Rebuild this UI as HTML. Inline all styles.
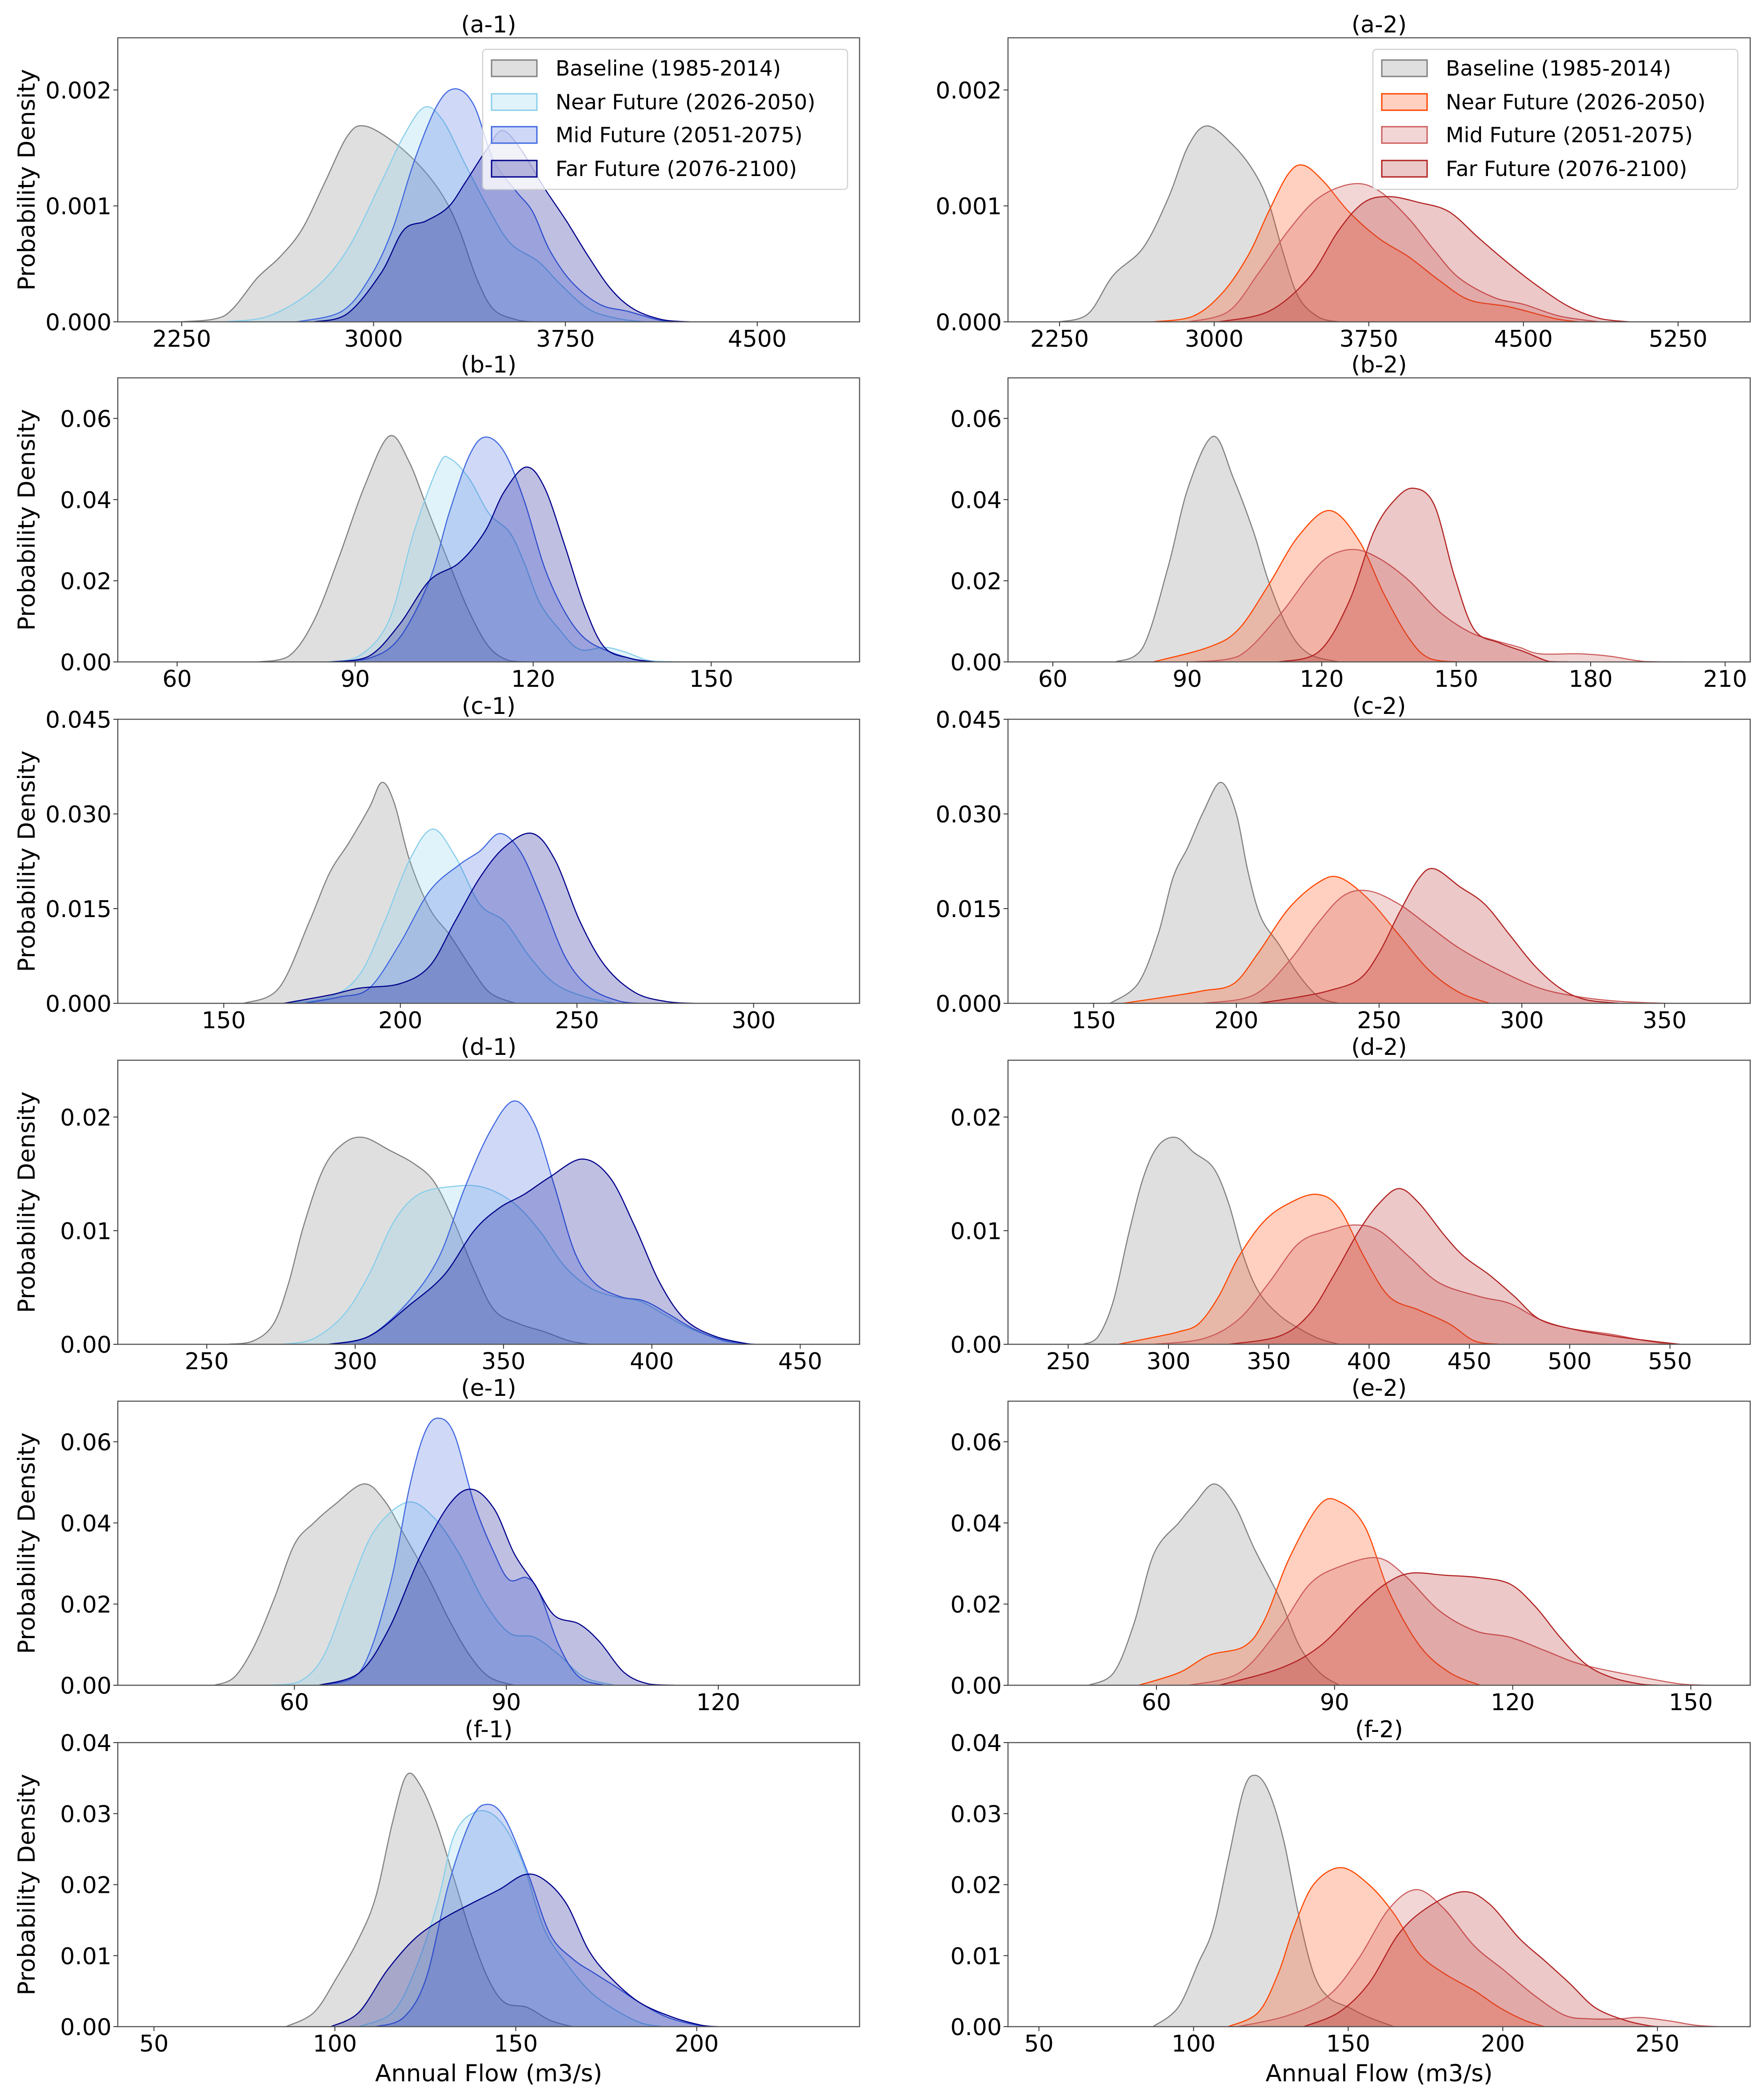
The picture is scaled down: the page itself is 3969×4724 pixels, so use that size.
<!DOCTYPE html>
<html>
<head>
<meta charset="utf-8">
<style>
html,body{margin:0;padding:0;background:#fff;}
svg{display:block;font-family:"DejaVu Sans","Liberation Sans",sans-serif;}
</style>
</head>
<body>
<svg id="fig" width="3969" height="4724" viewBox="0 0 3969 4724" xmlns="http://www.w3.org/2000/svg"></svg>
<script>
// ---------- data (x value, density) ----------
const A1_BASE=[[2250,0],[2415,0.00005],[2546,0.00038],[2634,0.00056],[2721,0.0008],[2809,0.0012],[2897,0.0016],[2963,0.00169],[3073,0.00156],[3183,0.00134],[3270,0.00109],[3336,0.00079],[3402,0.00038],[3468,0.00011],[3556,0.00002],[3622,0]];
const A1_NEAR=[[2415,0],[2590,0.00005],[2766,0.00028],[2897,0.00062],[3029,0.0012],[3117,0.0016],[3198,0.00185],[3270,0.00174],[3358,0.00136],[3446,0.00099],[3534,0.00068],[3644,0.00052],[3732,0.00032],[3841,0.00011],[3951,0.00003],[4061,0]];
const A1_MID=[[2700,0],[2875,0.00009],[2985,0.00038],[3073,0.00079],[3161,0.0014],[3249,0.00187],[3319,0.00201],[3392,0.00187],[3468,0.0014],[3556,0.00113],[3622,0.00095],[3688,0.00062],[3776,0.00034],[3885,0.00015],[3995,0.00009],[4127,0.00001],[4215,0]];
const A1_FAR=[[2766,0],[2897,0.00007],[3029,0.00042],[3117,0.00079],[3205,0.00087],[3292,0.00099],[3358,0.0012],[3446,0.0015],[3505,0.00165],[3578,0.00148],[3666,0.00116],[3754,0.00087],[3841,0.00056],[3929,0.00028],[4017,0.00011],[4127,0.00002],[4237,0]];

const A2_BASE=[[2250,0],[2389,0.00007],[2510,0.0004],[2656,0.00064],[2778,0.00107],[2875,0.00152],[2967,0.00169],[3094,0.00152],[3191,0.0013],[3264,0.00103],[3337,0.00058],[3410,0.00021],[3507,0.00004],[3604,0]];
const A2_NEAR=[[2705,0],[2899,0.00005],[3045,0.00026],[3167,0.00058],[3264,0.00095],[3361,0.00128],[3434,0.00135],[3531,0.00121],[3653,0.00095],[3799,0.00072],[3944,0.00056],[4090,0.00036],[4236,0.00019],[4430,0.00013],[4649,0.00003],[4771,0]];
const A2_MID=[[2875,0],[3069,0.00009],[3215,0.00042],[3361,0.00079],[3507,0.00107],[3672,0.00119],[3799,0.00113],[3944,0.00089],[4066,0.00062],[4187,0.00038],[4357,0.00021],[4503,0.00015],[4674,0.00005],[4868,0]];
const A2_FAR=[[3021,0],[3264,0.00009],[3459,0.00038],[3604,0.00079],[3726,0.00103],[3847,0.00108],[3993,0.00103],[4139,0.00095],[4285,0.00072],[4430,0.0005],[4576,0.0003],[4722,0.00013],[4868,0.00003],[5014,0]];

const B1_BASE=[[73.7,0],[78.8,0.0014],[83,0.01],[87.2,0.0255],[91.5,0.043],[95.7,0.0556],[99,0.0496],[102.5,0.0365],[105.8,0.0244],[109.2,0.0124],[112.6,0.0036],[116,0.0003],[119.4,0]];
const B1_NEAR=[[85.5,0],[90.6,0.0014],[95.7,0.0102],[99.9,0.032],[104.1,0.0485],[106,0.0501],[109.2,0.0452],[112.6,0.0365],[116,0.032],[118.5,0.0244],[121.1,0.0146],[124.4,0.008],[127.8,0.0031],[132,0.0036],[135.4,0.0025],[139.7,0.0003],[145.2,0]];
const B1_MID=[[85.5,0],[92.3,0.0009],[97.4,0.0058],[102.5,0.02],[105.8,0.0365],[109.2,0.0507],[111.9,0.0554],[115.1,0.0518],[118.5,0.0397],[121.9,0.0233],[125.3,0.0124],[128.7,0.0058],[132.9,0.0025],[138,0.0003],[140.5,0]];
const B1_FAR=[[86,0],[92.3,0.0014],[97.4,0.0091],[102.5,0.02],[107.5,0.0244],[111.8,0.032],[115.1,0.0419],[118.8,0.048],[121.9,0.043],[125.3,0.0288],[128.7,0.0135],[132,0.0036],[136.3,0.0009],[140.5,0]];

const B2_BASE=[[74,0],[80.1,0.0036],[85.7,0.0233],[90.2,0.043],[95.8,0.0556],[100.3,0.0452],[104.8,0.032],[108.1,0.02],[112.6,0.008],[117.1,0.002],[123.8,0]];
const B2_NEAR=[[82.4,0],[94.7,0.0036],[101.4,0.008],[108.1,0.0189],[114.8,0.031],[121.8,0.0373],[128.3,0.0299],[133.9,0.0167],[139.5,0.0058],[144,0.0009],[150.7,0]];
const B2_MID=[[91.3,0],[101.4,0.0014],[110.4,0.0113],[117.1,0.0211],[121.6,0.026],[127.2,0.0277],[132.8,0.0255],[139.5,0.02],[146.2,0.0124],[152.9,0.0074],[158.5,0.0053],[164.1,0.0036],[168.6,0.002],[177.5,0.002],[184.3,0.0014],[192.1,0.0001],[201,0]];
const B2_FAR=[[110.4,0],[119.3,0.0025],[126,0.0146],[131.6,0.032],[136.1,0.0397],[140.4,0.0428],[145.1,0.0387],[149.6,0.0211],[154,0.008],[159.6,0.0047],[165.2,0.0025],[170.8,0.0001],[175.3,0]];

const C1_BASE=[[155.7,0],[165.6,0.0024],[174.2,0.0129],[179.9,0.0206],[185.5,0.0255],[191.2,0.031],[194.8,0.035],[198.3,0.0317],[202.6,0.0227],[208.3,0.015],[214,0.0108],[219.7,0.0059],[225.3,0.0017],[232.5,0]];
const C1_NEAR=[[167,0],[179.9,0.001],[188.4,0.0045],[195.5,0.0129],[202.6,0.0227],[209.1,0.0276],[215.4,0.0234],[222.5,0.0157],[229.6,0.0129],[236.7,0.0073],[243.8,0.0031],[252.4,0.001],[260.9,0]];
const C1_MID=[[172.7,0],[182.7,0.001],[191.2,0.0024],[199.8,0.0094],[208.3,0.0178],[216.8,0.022],[222.5,0.0241],[228.2,0.0269],[233.9,0.0241],[239.6,0.0171],[246.7,0.0073],[253.8,0.0024],[262.3,0.0003],[268,0]];
const C1_FAR=[[167,0],[179.9,0.0013],[188.4,0.0024],[199.8,0.0031],[208.3,0.0059],[215.4,0.0129],[222.5,0.0199],[229.6,0.0248],[237.4,0.0269],[243.8,0.0227],[250.9,0.0129],[258,0.0059],[266.5,0.0017],[275.1,0.0003],[283,0]];

const C2_BASE=[[155.8,0],[165.5,0.0031],[172.5,0.0108],[177.8,0.0199],[183.1,0.0248],[188.4,0.0303],[194.5,0.035],[199.8,0.0303],[204.2,0.0206],[208.6,0.0136],[214.8,0.0094],[221.8,0.0045],[228.9,0.001],[235.9,0]];
const C2_NEAR=[[160.2,0],[179.6,0.0013],[188.4,0.002],[199,0.0031],[207.7,0.008],[218.3,0.015],[228.9,0.0192],[236.3,0.0199],[246.5,0.0164],[257,0.0108],[267.6,0.0052],[278.2,0.0017],[288.7,0]];
const C2_MID=[[188.4,0],[206,0.0013],[218.3,0.0066],[228.9,0.0129],[237.7,0.0171],[246.5,0.0178],[257,0.0157],[267.6,0.0122],[278.2,0.0087],[292.3,0.0052],[306.3,0.0024],[320.4,0.001],[334.5,0.0003],[350.4,0]];
const C2_FAR=[[207.7,0],[221.8,0.001],[232.4,0.002],[243,0.0038],[250,0.008],[257,0.0143],[264.1,0.0199],[269.4,0.0213],[278.2,0.0185],[287,0.0157],[295.8,0.0108],[304.6,0.0059],[313.4,0.0024],[322.2,0.0006],[334.5,0]];

const D1_BASE=[[257.3,0],[265.7,0.0003],[272.5,0.0018],[277.6,0.0054],[282.6,0.0104],[289.4,0.0155],[296.2,0.0177],[302.9,0.0182],[311.4,0.0171],[319.8,0.0159],[326.6,0.0143],[333.3,0.0108],[340.1,0.0065],[346.9,0.003],[355.3,0.0018],[363.8,0.0011],[372.2,0.0003],[379,0]];
const D1_NEAR=[[275.9,0],[286,0.0005],[296.2,0.0026],[304.6,0.0061],[313.1,0.0108],[321.5,0.0132],[333.3,0.0139],[343.5,0.0138],[353.6,0.0124],[362.1,0.01],[370.5,0.0069],[379,0.005],[387.4,0.0042],[395.9,0.0038],[404.3,0.0026],[412.8,0.0014],[422.9,0.0005],[433.1,0]];
const D1_MID=[[291.1,0],[304.6,0.0007],[318.1,0.0038],[328.3,0.0077],[336.7,0.0136],[345.2,0.0186],[353.3,0.0214],[360.4,0.0194],[367.2,0.0139],[374,0.0081],[380.7,0.0054],[389.2,0.0042],[397.6,0.0038],[406,0.0026],[414.5,0.0013],[424.6,0.0003],[434.8,0]];
const D1_FAR=[[291.1,0],[304.6,0.0007],[318.1,0.0034],[330,0.0061],[340.1,0.01],[348.6,0.012],[357,0.0132],[365.5,0.0147],[376.5,0.0163],[385.8,0.0147],[394.2,0.0104],[402.7,0.0054],[411.1,0.0022],[421.3,0.0007],[433.1,0]];

const D2_BASE=[[257.5,0],[265,0.0007],[272.5,0.0038],[280,0.0096],[287.5,0.0147],[295,0.0175],[303.8,0.0182],[312.5,0.0169],[322.5,0.0155],[330,0.0124],[337.5,0.0077],[345,0.0046],[355,0.0026],[365,0.0014],[375,0.0005],[385,0]];
const D2_NEAR=[[275,0],[295,0.0007],[305,0.0011],[315,0.0018],[325,0.0042],[335,0.0077],[347.5,0.0108],[360,0.0124],[373.8,0.0132],[385,0.012],[397.5,0.0077],[410,0.0042],[425,0.003],[440,0.0018],[452.5,0.0003],[465,0]];
const D2_MID=[[292.5,0],[317.5,0.0005],[335,0.0022],[350,0.0054],[365,0.0089],[380,0.01],[392.5,0.0105],[405,0.01],[420,0.0077],[435,0.0054],[455,0.0042],[470,0.0036],[485,0.0022],[500,0.0014],[520,0.0009],[535,0.0004],[550,0]];
const D2_FAR=[[330,0],[355,0.0007],[370,0.0026],[382.5,0.0061],[395,0.01],[405,0.0124],[415,0.0137],[425,0.0124],[437.5,0.0096],[447.5,0.0077],[460,0.0061],[472.5,0.0042],[485,0.0022],[502.5,0.0013],[522.5,0.0007],[540,0.0003],[555,0]];

const E1_BASE=[[48.7,0],[51.5,0.002],[54.3,0.0096],[57.2,0.0216],[60,0.0347],[62.8,0.0401],[65.7,0.0445],[69.8,0.0496],[72.7,0.0456],[75.6,0.0369],[79.1,0.026],[81.9,0.0161],[84.8,0.0074],[87.6,0.002],[91.1,0]];
const E1_NEAR=[[56.5,0],[60.7,0.0009],[64.2,0.0074],[67.8,0.0238],[71.3,0.038],[76,0.0451],[79.8,0.0412],[83.3,0.0325],[86.9,0.0205],[90.4,0.0129],[94,0.0118],[97.5,0.0074],[101,0.002],[105.3,0]];
const E1_MID=[[63.5,0],[69.2,0.0031],[73.4,0.0238],[76.3,0.0489],[78.4,0.062],[80.3,0.0658],[82.6,0.062],[85.5,0.0445],[88.3,0.0325],[90.4,0.026],[92.9,0.0265],[94.7,0.0227],[97.5,0.0096],[100.3,0.002],[103.9,0]];
const E1_FAR=[[63.5,0],[69.2,0.0031],[73.4,0.014],[77.7,0.0314],[81.9,0.0445],[85.1,0.0483],[88.3,0.0434],[91.1,0.0325],[94,0.0249],[96.8,0.0172],[100.3,0.0151],[103.2,0.0107],[106.7,0.0031],[110.2,0.0003],[113.8,0]];

const E2_BASE=[[48.6,0],[52.8,0.0031],[56.2,0.0151],[59.6,0.0325],[63.8,0.0401],[66.3,0.0445],[69.7,0.0496],[73.1,0.0445],[76.5,0.0336],[80.7,0.0216],[84.1,0.0096],[87.5,0.0031],[90.8,0]];
const E2_NEAR=[[57,0],[63.8,0.0031],[68.9,0.0074],[74.8,0.0096],[78.2,0.0161],[82.4,0.0314],[87.5,0.0445],[91,0.0451],[95.1,0.0391],[99.3,0.0227],[104.4,0.0096],[109.4,0.0031],[114.5,0]];
const E2_MID=[[65.5,0],[74,0.0031],[80.7,0.014],[85.8,0.0249],[90.8,0.0292],[97.2,0.0314],[101.8,0.0271],[107.7,0.0183],[113.7,0.0134],[119.6,0.0118],[125.5,0.0085],[131.4,0.0052],[139.9,0.0025],[148.3,0.0003],[152.5,0]];
const E2_FAR=[[70.6,0],[80.7,0.0041],[87.5,0.0096],[94.2,0.0194],[98.5,0.0249],[102.7,0.0276],[108.6,0.0271],[114.5,0.0265],[119.6,0.0249],[123.8,0.0194],[128,0.0118],[132.3,0.0052],[136.5,0.002],[141.5,0.0003],[144.9,0]];

const F1_BASE=[[86.5,0],[94.2,0.002],[100.4,0.0068],[106.6,0.0124],[111.3,0.0183],[115.9,0.0287],[119.8,0.0354],[123.7,0.0339],[128.3,0.0284],[133,0.0207],[137.6,0.0131],[142.3,0.0068],[146.9,0.0034],[153.2,0.0027],[159.4,0.0009],[165.6,0]];
const F1_NEAR=[[106.6,0],[115.9,0.002],[122.1,0.0079],[128.3,0.0173],[133,0.027],[139.2,0.0303],[145.4,0.0291],[151.6,0.0235],[157.8,0.0138],[164,0.0089],[170.2,0.0051],[176.4,0.0027],[184.2,0.0006],[190.4,0]];
const F1_MID=[[111.3,0],[119,0.0013],[125.2,0.0068],[131.4,0.02],[137.6,0.0291],[142,0.0313],[146.9,0.0294],[153.2,0.0218],[159.4,0.0131],[165.6,0.0096],[171.8,0.0075],[178,0.0055],[184.2,0.0034],[192,0.0013],[201.3,0.0001],[205.9,0]];
const F1_FAR=[[98.9,0],[106.6,0.002],[114.4,0.0079],[122.1,0.0124],[129.9,0.0152],[137.6,0.0173],[145.4,0.0193],[152.4,0.0214],[157.8,0.0207],[164,0.0173],[170.2,0.0107],[176.4,0.0068],[184.2,0.0034],[193.5,0.0013],[201.3,0.0002],[205.9,0]];

const F2_BASE=[[86.9,0],[95,0.0027],[101.5,0.0089],[106.3,0.0138],[111.2,0.0235],[116.1,0.0332],[119.8,0.0354],[124.2,0.0332],[129.1,0.0263],[133.9,0.0159],[138.8,0.0075],[143.7,0.0041],[150.2,0.0027],[156.7,0.0013],[164.8,0]];
const F2_NEAR=[[111.2,0],[120.9,0.002],[127.4,0.0075],[132.3,0.0138],[138.8,0.02],[147.6,0.0224],[156.7,0.02],[164.8,0.0159],[172.9,0.0103],[181,0.0075],[190.7,0.0051],[198.9,0.0027],[207,0.0009],[213.5,0]];
const F2_MID=[[114.4,0],[130.7,0.0016],[143.7,0.0044],[153.4,0.0096],[163.2,0.0166],[172.2,0.0193],[181,0.0166],[190.7,0.0114],[200.5,0.0079],[210.2,0.0044],[220,0.0016],[228.1,0.0011],[237.8,0.0011],[244.3,0.0013],[254,0.0008],[262.2,0.0002],[269.5,0]];
const F2_FAR=[[135.6,0],[146.9,0.002],[156.7,0.0061],[166.4,0.0131],[176.1,0.0169],[187.2,0.019],[195.6,0.0173],[205.4,0.0124],[213.5,0.0093],[221.6,0.0061],[229.8,0.0027],[239.5,0.0009],[247.6,0.0001],[250.8,0]];

// tick arrays
const XT_A1=[2250,3000,3750,4500];
const XT_A2=[2250,3000,3750,4500,5250];
const XT_B1=[60,90,120,150];
const XT_B2=[60,90,120,150,180,210];
const XT_C1=[150,200,250,300];
const XT_C2=[150,200,250,300,350];
const XT_D1=[250,300,350,400,450];
const XT_D2=[250,300,350,400,450,500,550];
const XT_E1=[60,90,120];
const XT_E2=[60,90,120,150];
const XT_F1=[50,100,150,200];
const XT_F2=[50,100,150,200,250];
const YT_A=[0,0.001,0.002]; const YL_A=["0.000","0.001","0.002"];
const YT_B=[0,0.02,0.04,0.06]; const YL_B=["0.00","0.02","0.04","0.06"];
const YT_C=[0,0.015,0.03,0.045]; const YL_C=["0.000","0.015","0.030","0.045"];
const YT_D=[0,0.01,0.02]; const YL_D=["0.00","0.01","0.02"];
const YT_E=[0,0.02,0.04,0.06]; const YL_E=["0.00","0.02","0.04","0.06"];
const YT_F=[0,0.01,0.02,0.03,0.04]; const YL_F=["0.00","0.01","0.02","0.03","0.04"];

const LEGEND_LABELS=["Baseline (1985-2014)","Near Future (2026-2050)","Mid Future (2051-2075)","Far Future (2076-2100)"];

// ---------- styles / layout ----------
const BLUE_COLS=["#808080","#87CEEB","#4169E1","#00008B"];
const RED_COLS=["#808080","#FF4500","#CD5C5C","#B22222"];
const SERIES_NAMES=["baseline","near-future","mid-future","far-future"];
const COLX=[265,2268], AXW=[1669,1670];
const ROWY=[85,850,1618,2385,3152,3920], AXH=639;

const panels=[
 {id:"a-1",c:0,r:0,xl:[2000,4900],yl:[0,0.00245],xt:XT_A1,yt:YT_A,ylab:YL_A,s:[A1_BASE,A1_NEAR,A1_MID,A1_FAR],legend:true},
 {id:"a-2",c:1,r:0,xl:[2000,5600],yl:[0,0.00245],xt:XT_A2,yt:YT_A,ylab:YL_A,s:[A2_BASE,A2_NEAR,A2_MID,A2_FAR],legend:true},
 {id:"b-1",c:0,r:1,xl:[50,175],yl:[0,0.07],xt:XT_B1,yt:YT_B,ylab:YL_B,s:[B1_BASE,B1_NEAR,B1_MID,B1_FAR]},
 {id:"b-2",c:1,r:1,xl:[50,215.6],yl:[0,0.07],xt:XT_B2,yt:YT_B,ylab:YL_B,s:[B2_BASE,B2_NEAR,B2_MID,B2_FAR]},
 {id:"c-1",c:0,r:2,xl:[120,330],yl:[0,0.045],xt:XT_C1,yt:YT_C,ylab:YL_C,s:[C1_BASE,C1_NEAR,C1_MID,C1_FAR]},
 {id:"c-2",c:1,r:2,xl:[120,380],yl:[0,0.045],xt:XT_C2,yt:YT_C,ylab:YL_C,s:[C2_BASE,C2_NEAR,C2_MID,C2_FAR]},
 {id:"d-1",c:0,r:3,xl:[220,470],yl:[0,0.025],xt:XT_D1,yt:YT_D,ylab:YL_D,s:[D1_BASE,D1_NEAR,D1_MID,D1_FAR]},
 {id:"d-2",c:1,r:3,xl:[220,590],yl:[0,0.025],xt:XT_D2,yt:YT_D,ylab:YL_D,s:[D2_BASE,D2_NEAR,D2_MID,D2_FAR]},
 {id:"e-1",c:0,r:4,xl:[35,140],yl:[0,0.07],xt:XT_E1,yt:YT_E,ylab:YL_E,s:[E1_BASE,E1_NEAR,E1_MID,E1_FAR]},
 {id:"e-2",c:1,r:4,xl:[35,160],yl:[0,0.07],xt:XT_E2,yt:YT_E,ylab:YL_E,s:[E2_BASE,E2_NEAR,E2_MID,E2_FAR]},
 {id:"f-1",c:0,r:5,xl:[40,245],yl:[0,0.04],xt:XT_F1,yt:YT_F,ylab:YL_F,s:[F1_BASE,F1_NEAR,F1_MID,F1_FAR]},
 {id:"f-2",c:1,r:5,xl:[40,280],yl:[0,0.04],xt:XT_F2,yt:YT_F,ylab:YL_F,s:[F2_BASE,F2_NEAR,F2_MID,F2_FAR]}
];

const NS="http://www.w3.org/2000/svg";
const svg=document.getElementById("fig");
function mk(tag,attrs,parent){const e=document.createElementNS(NS,tag);for(const k in attrs)e.setAttribute(k,attrs[k]);(parent||svg).appendChild(e);return e;}

function smoothPath(pts,baseY){
  let d="M"+pts[0][0].toFixed(1)+","+pts[0][1].toFixed(1);
  for(let i=0;i<pts.length-1;i++){
    const p0=pts[i-1]||pts[i],p1=pts[i],p2=pts[i+1],p3=pts[i+2]||p2;
    let c1x=p1[0]+(p2[0]-p0[0])/6,c1y=p1[1]+(p2[1]-p0[1])/6;
    let c2x=p2[0]-(p3[0]-p1[0])/6,c2y=p2[1]-(p3[1]-p1[1])/6;
    c1y=Math.min(c1y,baseY);c2y=Math.min(c2y,baseY);
    d+=" C"+c1x.toFixed(1)+","+c1y.toFixed(1)+" "+c2x.toFixed(1)+","+c2y.toFixed(1)+" "+p2[0].toFixed(1)+","+p2[1].toFixed(1);
  }
  return d;
}

panels.forEach(p=>{
  const X0=COLX[p.c],W=AXW[p.c],Y0=ROWY[p.r],H=AXH,YB=Y0+H;
  const xs=v=>X0+(v-p.xl[0])/(p.xl[1]-p.xl[0])*W;
  const ys=v=>YB-(v-p.yl[0])/(p.yl[1]-p.yl[0])*H;
  const cols=p.c===0?BLUE_COLS:RED_COLS;
  const g=mk("g",{});
  
  
  const clipId="clip"+p.id;
  const cp=mk("clipPath",{id:clipId},g); mk("rect",{x:X0,y:Y0,width:W,height:H},cp);
  const series=mk("g",{"clip-path":"url(#"+clipId+")"},g);
  p.s.forEach((arr,i)=>{
    const pts=arr.map(d=>[xs(d[0]),ys(d[1])]);
    const line=smoothPath(pts,YB);
    const area=mk("path",{d:line+" L"+pts[pts.length-1][0].toFixed(1)+","+YB+" L"+pts[0][0].toFixed(1)+","+YB+" Z",fill:cols[i],"fill-opacity":"0.25",stroke:"none"},series);
    
    
    const ln=mk("path",{d:line,fill:"none",stroke:cols[i],"stroke-width":"2.5"},series);
    
    
  });
  const frame=mk("rect",{x:X0,y:Y0,width:W,height:H,fill:"none",stroke:"#555","stroke-width":"2.5"},g);
  
  
  p.xt.forEach(v=>{
    const x=xs(v);
    mk("line",{x1:x,y1:YB,x2:x,y2:YB+10,stroke:"#333","stroke-width":"2"},g);
    const t=mk("text",{x:x,y:YB+56,"text-anchor":"middle","font-size":"52",fill:"#000"},g);
    t.textContent=String(v);
    
    
  });
  p.yt.forEach((v,i)=>{
    const y=ys(v);
    mk("line",{x1:X0-10,y1:y,x2:X0,y2:y,stroke:"#333","stroke-width":"2"},g);
    const t=mk("text",{x:X0-14,y:y+19,"text-anchor":"end","font-size":"52",fill:"#000"},g);
    t.textContent=p.ylab[i];
    
    
  });
  const tt=mk("text",{x:X0+W/2,y:Y0-12,"text-anchor":"middle","font-size":"52",fill:"#000"},g);
  tt.textContent="("+p.id+")";
  
  
  if(p.c===0){
    const yl=mk("text",{x:0,y:0,"text-anchor":"middle","font-size":"53",fill:"#000",transform:"translate(78,"+(Y0+H/2)+") rotate(-90)"},g);
    yl.textContent="Probability Density";
    
    
  }
  if(p.r===5){
    const xl=mk("text",{x:X0+W/2,y:4682,"text-anchor":"middle","font-size":"53",fill:"#000"},g);
    xl.textContent="Annual Flow (m3/s)";
    
    
  }
  if(p.legend){
    const lx=p.c===0?1086:3089, ly=111;
    const lg=mk("g",{},g);
    
    
    mk("rect",{x:lx,y:ly,width:821,height:315,rx:8,fill:"#fff","fill-opacity":"0.8",stroke:"#d0d0d0","stroke-width":"2.5"},lg);
    const ey=[153,229,303,379];
    LEGEND_LABELS.forEach((lab,i)=>{
      const e=mk("g",{},lg);
      
      
      mk("rect",{x:lx+20,y:ey[i]-18,width:102,height:37,fill:cols[i],"fill-opacity":"0.25",stroke:cols[i],"stroke-width":"3"},e);
      const t=mk("text",{x:lx+164,y:ey[i]+17,"font-size":"47",fill:"#000"},e);
      t.textContent=lab;
    });
  }
});
</script>
</body>
</html>
